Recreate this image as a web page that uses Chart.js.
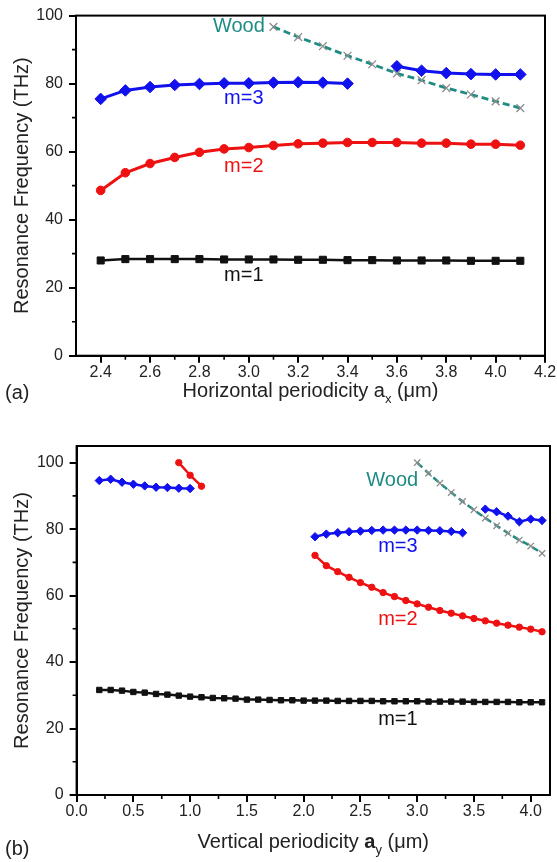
<!DOCTYPE html>
<html>
<head>
<meta charset="utf-8">
<script src="https://cdn.jsdelivr.net/npm/chart.js@4/dist/chart.umd.min.js"></script>
<style>
  html, body { margin: 0; padding: 0; background: #fff; }
  #chartA { position: absolute; left: 0; top: 0; }
  #chartB { position: absolute; left: 0; top: 410px; }
</style>
</head>
<body>
<canvas id="chartA" width="557" height="410"></canvas>
<canvas id="chartB" width="557" height="452"></canvas>
<script>
'use strict';

/* ── Panel (a): horizontal periodicity ───────────────── */
const A_X_TICKS = [2.4, 2.6, 2.8, 3.0, 3.2, 3.4, 3.6, 3.8, 4.0, 4.2];
const A_X_MINOR = [2.5, 2.7, 2.9, 3.1, 3.3, 3.5, 3.7, 3.9, 4.1];

const A_M1_X = [2.4, 2.5, 2.6, 2.7, 2.8, 2.9, 3.0, 3.1, 3.2, 3.3, 3.4, 3.5, 3.6, 3.7, 3.8, 3.9, 4.0, 4.1];
const A_M1_Y = [28.0, 28.4, 28.4, 28.4, 28.4, 28.3, 28.3, 28.3, 28.2, 28.2, 28.1, 28.1, 28.0, 28.0, 28.0, 27.9, 27.9, 27.9];

const A_M2_X = [2.4, 2.5, 2.6, 2.7, 2.8, 2.9, 3.0, 3.1, 3.2, 3.3, 3.4, 3.5, 3.6, 3.7, 3.8, 3.9, 4.0, 4.1];
const A_M2_Y = [48.6, 53.8, 56.5, 58.3, 59.8, 60.8, 61.2, 61.8, 62.3, 62.5, 62.7, 62.7, 62.7, 62.5, 62.5, 62.2, 62.2, 61.9];

const A_M3_X1 = [2.4, 2.5, 2.6, 2.7, 2.8, 2.9, 3.0, 3.1, 3.2, 3.3, 3.4];
const A_M3_Y1 = [75.5, 78.0, 79.0, 79.6, 79.9, 80.1, 80.1, 80.3, 80.4, 80.3, 80.0];
const A_M3_X2 = [3.6, 3.7, 3.8, 3.9, 4.0, 4.1];
const A_M3_Y2 = [85.1, 83.8, 83.1, 82.8, 82.7, 82.7];

const A_WOOD_X = [3.1, 3.2, 3.3, 3.4, 3.5, 3.6, 3.7, 3.8, 3.9, 4.0, 4.1];
const A_WOOD_Y = [96.7, 93.7, 91.0, 88.2, 85.7, 83.0, 81.0, 78.7, 76.8, 74.8, 72.8];

/* ── Panel (b): vertical periodicity ─────────────────── */
const B_X_TICKS = [0.0, 0.5, 1.0, 1.5, 2.0, 2.5, 3.0, 3.5, 4.0];
const B_X_MINOR = [0.25, 0.75, 1.25, 1.75, 2.25, 2.75, 3.25, 3.75];

const B_M1_X = [0.2, 0.3, 0.4, 0.5, 0.6, 0.7, 0.8, 0.9, 1.0, 1.1, 1.2, 1.3, 1.4, 1.5, 1.6, 1.7, 1.8, 1.9, 2.0,
                2.1, 2.2, 2.3, 2.4, 2.5, 2.6, 2.7, 2.8, 2.9, 3.0, 3.1, 3.2, 3.3, 3.4, 3.5, 3.6, 3.7, 3.8, 3.9, 4.0, 4.1];
const B_M1_Y = [31.6, 31.6, 31.4, 31.0, 30.8, 30.4, 30.2, 29.9, 29.6, 29.4, 29.2, 29.1, 29.0, 28.7, 28.7, 28.6, 28.5, 28.5, 28.4,
                28.4, 28.4, 28.3, 28.3, 28.3, 28.3, 28.2, 28.2, 28.2, 28.2, 28.1, 28.1, 28.1, 28.1, 28.0, 28.0, 28.0, 28.0, 27.9, 27.9, 27.9];

const B_M2_X1 = [0.9, 1.0, 1.1];
const B_M2_Y1 = [100.0, 96.2, 92.9];
const B_M2_X2 = [2.1, 2.2, 2.3, 2.4, 2.5, 2.6, 2.7, 2.8, 2.9, 3.0, 3.1, 3.2, 3.3, 3.4, 3.5, 3.6, 3.7, 3.8, 3.9, 4.0, 4.1];
const B_M2_Y2 = [72.1, 69.0, 67.2, 65.5, 63.9, 62.5, 60.9, 59.7, 58.5, 57.5, 56.5, 55.5, 54.7, 53.9, 53.1, 52.4, 51.7, 51.1, 50.5, 49.9, 49.1];

const B_M3_X1 = [0.2, 0.3, 0.4, 0.5, 0.6, 0.7, 0.8, 0.9, 1.0];
const B_M3_Y1 = [94.6, 95.0, 94.1, 93.5, 93.0, 92.6, 92.5, 92.3, 92.2];
const B_M3_X2 = [2.1, 2.2, 2.3, 2.4, 2.5, 2.6, 2.7, 2.8, 2.9, 3.0, 3.1, 3.2, 3.3, 3.4];
const B_M3_Y2 = [77.7, 78.5, 78.9, 79.2, 79.4, 79.6, 79.7, 79.7, 79.7, 79.7, 79.6, 79.5, 79.3, 78.9];
const B_M3_X3 = [3.6, 3.7, 3.8, 3.9, 4.0, 4.1];
const B_M3_Y3 = [86.0, 85.2, 83.9, 82.2, 83.0, 82.6];

const B_WOOD_X = [3.0, 3.1, 3.2, 3.3, 3.4, 3.5, 3.6, 3.7, 3.8, 3.9, 4.0, 4.1];
const B_WOOD_Y = [100.0, 96.8, 93.8, 91.0, 88.3, 85.8, 83.3, 81.0, 78.8, 76.7, 74.9, 72.7];

/* ── shared ──────────────────────────────────────────── */
const Y_TICKS = [0, 20, 40, 60, 80, 100];
const Y_MINOR = [10, 30, 50, 70, 90];

const RED = '#ee1111', BLUE = '#1111ee', BLACK = '#111111', TEAL = '#1f8c84', GREY = '#8c8c8c';
const FONT = '"Liberation Sans", Arial, sans-serif';

Chart.defaults.font.family = FONT;
Chart.defaults.font.size = 16;
Chart.defaults.color = '#222';

const pts = (xs, ys) => xs.map((x, i) => ({ x, y: ys[i] }));

function series(xs, ys, color, style, r, lw) {
    return {
        data: pts(xs, ys),
        borderColor: color,
        backgroundColor: color,
        borderWidth: lw,
        pointStyle: style,
        pointRadius: r,
        pointBorderWidth: 1,
        pointBorderColor: color,
        pointBackgroundColor: color,
        tension: 0,
    };
}

function wood(xs, ys, r, lw) {
    return {
        data: pts(xs, ys),
        borderColor: TEAL,
        borderWidth: lw,
        borderDash: [7, 4],
        pointStyle: 'crossRot',
        pointRadius: r,
        pointBorderWidth: 1.3,
        pointBorderColor: GREY,
        tension: 0,
    };
}

function axis(min, max, ticks, fmt, pad, fitFn) {
    return {
        type: 'linear', min, max,
        afterBuildTicks: s => { s.ticks = ticks.map(v => ({ value: v })); },
        afterFit: fitFn,
        border: { display: true, color: '#000', width: 2 },
        grid: { display: true, drawOnChartArea: false, drawTicks: true, tickLength: 7, color: '#000', lineWidth: 2 },
        ticks: { callback: fmt, padding: pad, font: { size: 16 }, color: '#222' },
    };
}

/* frame, minor ticks, curve labels and axis titles */
function panelPlugin(cfg) {
    return {
        id: 'panel',
        afterDraw(chart) {
            const { ctx, chartArea: a, scales: { x, y } } = chart;
            ctx.save();
            ctx.strokeStyle = '#000';
            ctx.lineWidth = 2;
            ctx.strokeRect(a.left, a.top, a.right - a.left, a.bottom - a.top);

            ctx.lineWidth = 1.6;
            ctx.beginPath();
            cfg.minorX.forEach(v => { const p = x.getPixelForValue(v); ctx.moveTo(p, a.bottom); ctx.lineTo(p, a.bottom + 4); });
            cfg.minorY.forEach(v => { const p = y.getPixelForValue(v); ctx.moveTo(a.left, p); ctx.lineTo(a.left - 4, p); });
            ctx.stroke();

            ctx.font = '20px ' + FONT;
            ctx.textAlign = 'center';
            ctx.textBaseline = 'middle';
            cfg.labels.forEach(l => {
                ctx.fillStyle = l.color;
                ctx.fillText(l.text, x.getPixelForValue(l.x), y.getPixelForValue(l.y));
            });

            // y title
            ctx.fillStyle = '#222';
            ctx.save();
            ctx.translate(27.5, (a.top + a.bottom) / 2);
            ctx.rotate(-Math.PI / 2);
            ctx.textBaseline = 'alphabetic';
            ctx.fillText('Resonance Frequency (THz)', 0, 0);
            ctx.restore();

            // x title with subscript
            const parts = [
                { t: cfg.xTitle, f: '20px ' + FONT, dy: 0 },
                { t: 'a', f: cfg.boldA ? 'bold 20px ' + FONT : '20px ' + FONT, dy: 0 },
                { t: cfg.sub, f: '13px ' + FONT, dy: 6 },
                { t: ' (\u03BCm)', f: '20px ' + FONT, dy: 0 },
            ];
            let total = 0;
            parts.forEach(p => { ctx.font = p.f; p.w = ctx.measureText(p.t).width; total += p.w; });
            let cx = (a.left + a.right) / 2 - total / 2;
            ctx.textAlign = 'left';
            ctx.textBaseline = 'alphabetic';
            parts.forEach(p => { ctx.font = p.f; ctx.fillText(p.t, cx, cfg.titleY + p.dy); cx += p.w; });

            // panel tag
            ctx.font = '20px ' + FONT;
            ctx.fillText(cfg.tag, 5, cfg.tagY);
            ctx.restore();
        }
    };
}

/* ── Chart (a) ───────────────────────────────────────── */
new Chart(document.getElementById('chartA'), {
    type: 'line',
    data: {
        datasets: [
            wood(A_WOOD_X, A_WOOD_Y, 5.5, 2.8),
            series(A_M1_X, A_M1_Y, BLACK, 'rect', 5, 2.5),
            series(A_M2_X, A_M2_Y, RED, 'circle', 4.3, 3),
            series(A_M3_X1, A_M3_Y1, BLUE, 'rectRot', 5.8, 3),
            series(A_M3_X2, A_M3_Y2, BLUE, 'rectRot', 5.8, 3),
        ]
    },
    options: {
        responsive: false, animation: false,
        layout: { padding: { top: 12.7, right: 12, left: 0, bottom: 0 } },
        plugins: { legend: { display: false }, tooltip: { enabled: false } },
        scales: {
            x: axis(2.3, 4.2, A_X_TICKS, v => v.toFixed(1), 0, s => { s.height = 54.3; }),
            y: axis(0, 100, Y_TICKS, v => v, 6, s => { s.width = 76; }),
        }
    },
    plugins: [panelPlugin({
        minorX: A_X_MINOR, minorY: Y_MINOR,
        labels: [
            { text: 'Wood', x: 2.96, y: 96.7, color: TEAL },
            { text: 'm=3', x: 2.98, y: 75.7, color: BLUE },
            { text: 'm=2', x: 2.98, y: 55.6, color: RED },
            { text: 'm=1', x: 2.98, y: 23.5, color: BLACK },
        ],
        xTitle: 'Horizontal periodicity ', boldA: false, sub: 'x', titleY: 396.5,
        tag: '(a)', tagY: 399,
    })]
});

/* ── Chart (b) ───────────────────────────────────────── */
new Chart(document.getElementById('chartB'), {
    type: 'line',
    data: {
        datasets: [
            wood(B_WOOD_X, B_WOOD_Y, 4.5, 2.5),
            series(B_M1_X, B_M1_Y, BLACK, 'rect', 3.8, 2.5),
            series(B_M2_X1, B_M2_Y1, RED, 'circle', 3.2, 2.5),
            series(B_M2_X2, B_M2_Y2, RED, 'circle', 3.2, 2.5),
            series(B_M3_X1, B_M3_Y1, BLUE, 'rectRot', 4.2, 2.5),
            series(B_M3_X2, B_M3_Y2, BLUE, 'rectRot', 4.2, 2.5),
            series(B_M3_X3, B_M3_Y3, BLUE, 'rectRot', 4.2, 2.5),
        ]
    },
    options: {
        responsive: false, animation: false,
        layout: { padding: { top: 36, right: 7, left: 0, bottom: 0 } },
        plugins: { legend: { display: false }, tooltip: { enabled: false } },
        scales: {
            x: axis(0, 4.17, B_X_TICKS, v => v.toFixed(1), 0, s => { s.height = 67; }),
            y: axis(0, 105, Y_TICKS, v => v, 6, s => { s.width = 76.6; }),
        }
    },
    plugins: [panelPlugin({
        minorX: B_X_MINOR, minorY: Y_MINOR,
        labels: [
            { text: 'Wood', x: 2.78, y: 94.5, color: TEAL },
            { text: 'm=3', x: 2.83, y: 74.9, color: BLUE },
            { text: 'm=2', x: 2.83, y: 52.7, color: RED },
            { text: 'm=1', x: 2.83, y: 22.7, color: BLACK },
        ],
        xTitle: 'Vertical periodicity ', boldA: true, sub: 'y', titleY: 438,
        tag: '(b)', tagY: 445,
    })]
});
</script>
</body>
</html>
